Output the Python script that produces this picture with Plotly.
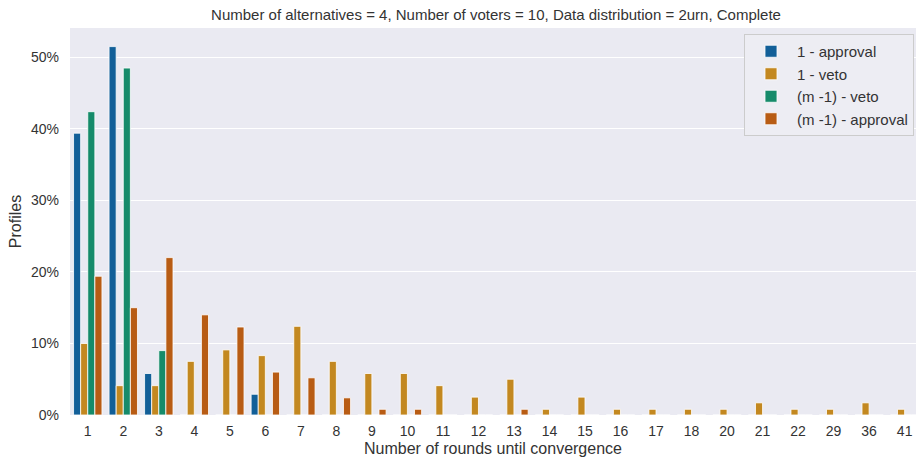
import plotly.graph_objects as go

categories = ["1", "2", "3", "4", "5", "6", "7", "8", "9", "10", "11", "12",
              "13", "14", "15", "16", "17", "18", "20", "21", "22", "29", "36", "41"]

approval_1 = [39.4, 51.5, 5.8, 0, 0, 2.9, 0, 0, 0, 0, 0, 0,
              0, 0, 0, 0, 0, 0, 0, 0, 0, 0, 0, 0]
veto_1 = [10.0, 4.1, 4.1, 7.5, 9.1, 8.3, 12.4, 7.5, 5.8, 5.8, 4.1, 2.5,
          5.0, 0.8, 2.5, 0.8, 0.8, 0.8, 0.8, 1.7, 0.8, 0.8, 1.7, 0.8]
veto_m1 = [42.4, 48.5, 9.0, 0, 0, 0, 0, 0, 0, 0, 0, 0,
           0, 0, 0, 0, 0, 0, 0, 0, 0, 0, 0, 0]
approval_m1 = [19.4, 15.0, 22.0, 14.0, 12.3, 6.0, 5.2, 2.4, 0.8, 0.8, 0, 0,
               0.8, 0, 0, 0, 0, 0, 0, 0, 0, 0, 0, 0]

y_tick_values = [0, 10, 20, 30, 40, 50]
y_tick_labels = ["0%", "10%", "20%", "30%", "40%", "50%"]

series_names = ["1 - approval", "1 - veto", "(m -1) - veto", "(m -1) - approval"]
series_values = [approval_1, veto_1, veto_m1, approval_m1]
colors = ["#125f98", "#c38820", "#168b6a", "#b85c14"]

FONT = "Liberation Sans, Arial, sans-serif"
TXT = "#333333"

fig = go.Figure()
for name, vals, col in zip(series_names, series_values, colors):
    fig.add_trace(go.Bar(
        x=categories, y=vals, name=name,
        marker=dict(color=col, line=dict(color="white", width=0.8)),
    ))

W, H = 916, 462
L, R, T, B = 70, 0, 28, 47

fig.update_layout(
    width=W, height=H,
    margin=dict(l=L, r=R, t=T, b=B, pad=0),
    paper_bgcolor="white",
    plot_bgcolor="#eaeaf2",
    barmode="group",
    bargap=0.2,
    bargroupgap=0,
    font=dict(family=FONT, color=TXT, size=14),
    title=dict(
        text="Number of alternatives = 4, Number of voters = 10, Data distribution = 2urn, Complete",
        xref="container", x=496 / W, xanchor="center",
        yref="container", y=1 - 15 / H, yanchor="middle",
        font=dict(size=15, color=TXT, family=FONT),
    ),
    xaxis=dict(
        type="category",
        categoryorder="array", categoryarray=categories,
        range=[-0.5, 23.32],
        showgrid=False, zeroline=False, showline=False,
        ticks="", ticklabelstandoff=6,
        tickfont=dict(size=14, color=TXT),
        title=dict(text="Number of rounds until convergence", font=dict(size=16, color=TXT), standoff=4),
    ),
    yaxis=dict(
        range=[0, 54.1],
        tickmode="array",
        tickvals=y_tick_values,
        ticktext=y_tick_labels,
        showgrid=True, gridcolor="white", gridwidth=1,
        zeroline=False, showline=False,
        ticks="", ticklabelstandoff=10,
        tickfont=dict(size=14, color=TXT),
        title=dict(text="Profiles", font=dict(size=16, color=TXT), standoff=5),
    ),
    legend=dict(
        x=(914 - L) / (W - L - R), xanchor="right",
        y=(H - B - 34) / (H - B - T), yanchor="top",
        bgcolor="#ededf3", bordercolor="#cccccc", borderwidth=1,
        font=dict(size=15, color=TXT, family=FONT),
        itemwidth=42,
        tracegroupgap=0,
        traceorder="normal",
    ),
)

fig.write_html(
    "out.html",
    config={"displayModeBar": False},
    post_script="document.body.style.margin='0px';document.body.style.overflow='hidden';",
)
